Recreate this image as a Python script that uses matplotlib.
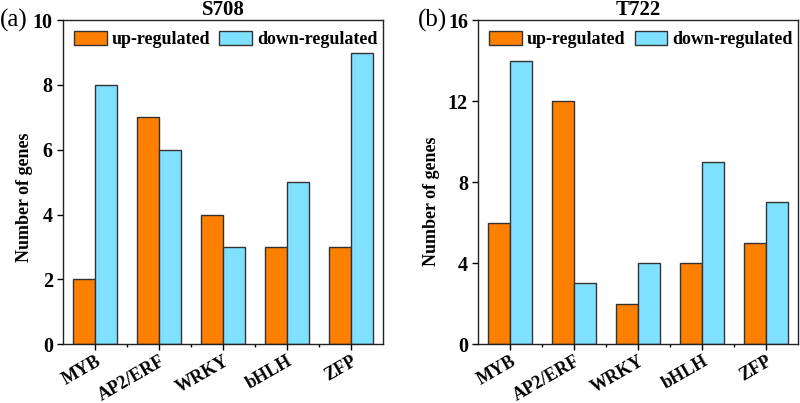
import matplotlib.pyplot as plt
import numpy as np

families = ["MYB", "AP2/ERF", "WRKY", "bHLH", "ZFP"]
s708_up = [2, 7, 4, 3, 3]
s708_down = [8, 6, 3, 5, 9]
t722_up = [6, 12, 2, 4, 5]
t722_down = [14, 3, 4, 9, 7]

plt.rcParams["font.family"] = ["Liberation Serif", "DejaVu Serif"]
plt.rcParams["font.weight"] = "bold"

UP_COLOR = "#ff8000"
DOWN_COLOR = "#80e0ff"
EDGE = "#333333"


def draw_panel(ax, up, down, title, ymax, ystep, tag, tag_x, ylab_xy):
    x = np.arange(len(families))
    w = 0.345
    ax.bar(x - w / 2, up, w, color=UP_COLOR, edgecolor=EDGE, linewidth=1.0,
           label="up-regulated")
    ax.bar(x + w / 2, down, w, color=DOWN_COLOR, edgecolor=EDGE, linewidth=1.0,
           label="down-regulated")
    ax.set_xlim(-0.5, len(families) - 0.5)
    ax.set_ylim(0, ymax)
    ax.set_yticks(np.arange(0, ymax + 1, ystep))
    ax.set_xticks(x)
    ax.set_xticks(x[:-1] + 0.5, minor=True)
    ax.set_xticklabels(families, rotation=30, ha="right", rotation_mode="anchor",
                       fontsize=13, fontweight="bold")
    for lab in ax.get_yticklabels():
        lab.set_fontsize(14.5)
        lab.set_fontweight("bold")
    ax.tick_params(axis="both", direction="out", length=4, width=1.0)
    ax.tick_params(axis="x", pad=2)
    ax.tick_params(axis="x", which="minor", direction="out", length=2.5, width=1.0)
    for sp in ax.spines.values():
        sp.set_linewidth(1.0)
        sp.set_color("#222222")
    ax.set_ylabel("Number of genes", fontsize=13, fontweight="bold")
    ax.yaxis.set_label_coords(*ylab_xy)
    ax.set_title(title, fontsize=15, fontweight="bold", pad=3)
    ax.legend(loc="upper left", ncol=2, frameon=False,
              handlelength=1.8, handleheight=0.8, handletextpad=0.3,
              columnspacing=0.5, borderaxespad=0.2,
              prop={"weight": "bold", "size": 13})
    ax.text(tag_x, 1.0, tag, transform=ax.transAxes, fontsize=18,
            fontweight="normal", ha="left", va="center")


fig = plt.figure(figsize=(8, 4.03), dpi=100)
ax1 = fig.add_axes([0.079, 0.146, 0.4, 0.804])
ax2 = fig.add_axes([0.598, 0.146, 0.4, 0.804])

draw_panel(ax1, s708_up, s708_down, "S708", 10, 2, "(a)", -0.197, (-0.094, 0.454))
draw_panel(ax2, t722_up, t722_down, "T722", 16, 4, "(b)", -0.19, (-0.119, 0.44))

fig.savefig("out.png", dpi=100)
